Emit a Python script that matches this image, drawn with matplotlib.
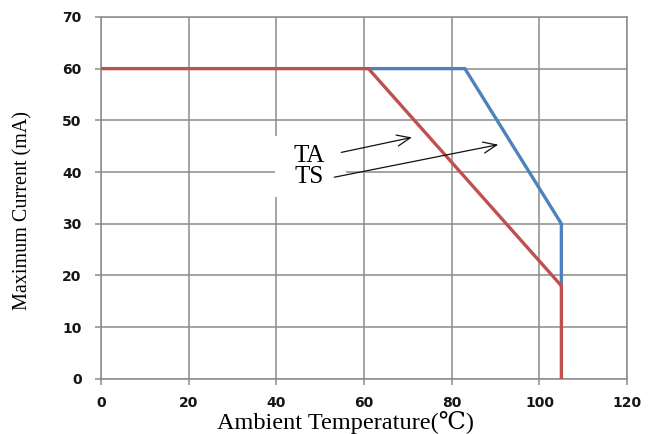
import numpy as np
import matplotlib.pyplot as plt
from matplotlib.patches import Rectangle

plt.rcParams['font.size'] = 10

# derating curves
ta_temp = [0, 61, 105, 105]
ta_curr = [60, 60, 18, 0]
ts_temp = [61, 83, 105, 105]
ts_curr = [60, 60, 30, 18]

xticks = np.arange(0, 121, 20)
yticks = np.arange(0, 71, 10)

fig = plt.figure(figsize=(6.56, 4.34), dpi=100)
ax = fig.add_axes([0.154, 0.127, 0.802, 0.834])

grid_c = '#8c8c8c'
ax.set_xlim(0, 120)
ax.set_ylim(0, 70)
ax.set_xticks(xticks)
ax.set_yticks(yticks)
ax.grid(True, color=grid_c, linewidth=1.1)
ax.set_axisbelow(True)
for s in ax.spines.values():
    s.set_color(grid_c)
    s.set_linewidth(1.1)
ax.tick_params(direction='out', length=4, width=1.1, color=grid_c,
               labelsize=10, labelcolor='#151515')
ax.tick_params(axis='x', pad=8)
ax.tick_params(axis='y', pad=10)
for lab in ax.get_xticklabels() + ax.get_yticklabels():
    lab.set_fontweight('bold')

ax.plot(ts_temp, ts_curr, color='#4F81BD', linewidth=2.4, solid_joinstyle='miter', zorder=3)
ax.plot(ta_temp, ta_curr, color='#C0504D', linewidth=2.4, solid_joinstyle='miter', zorder=4)

serif = ['Liberation Serif', 'DejaVu Serif']
fig.text(0.527, 0.026, 'Ambient Temperature(\u2103)', family=serif, fontsize=17.5,
         ha='center', va='center')
fig.text(0.035, 0.516, 'Maximum Current (mA)', family=serif, fontsize=14.5,
         ha='center', va='center', rotation=90)

# white label box over the grid
ax.add_patch(Rectangle((39.7, 35.2), 16.2, 11.8, facecolor='white',
                       edgecolor='none', zorder=2))
ax.text(47.4, 41.1, 'TA\nTS', family=serif, fontsize=18, ha='center', va='center',
        linespacing=0.92, zorder=5)

arrow = dict(arrowstyle='->,head_length=0.6,head_width=0.25', color='#111111',
             linewidth=0.9, mutation_scale=16, shrinkA=0, shrinkB=0)
ax.annotate('', xy=(70.9, 46.7), xytext=(54.8, 43.8), arrowprops=arrow, zorder=6)
ax.annotate('', xy=(90.6, 45.3), xytext=(53.2, 39.0), arrowprops=arrow, zorder=6)

fig.savefig('out.png', dpi=100)
